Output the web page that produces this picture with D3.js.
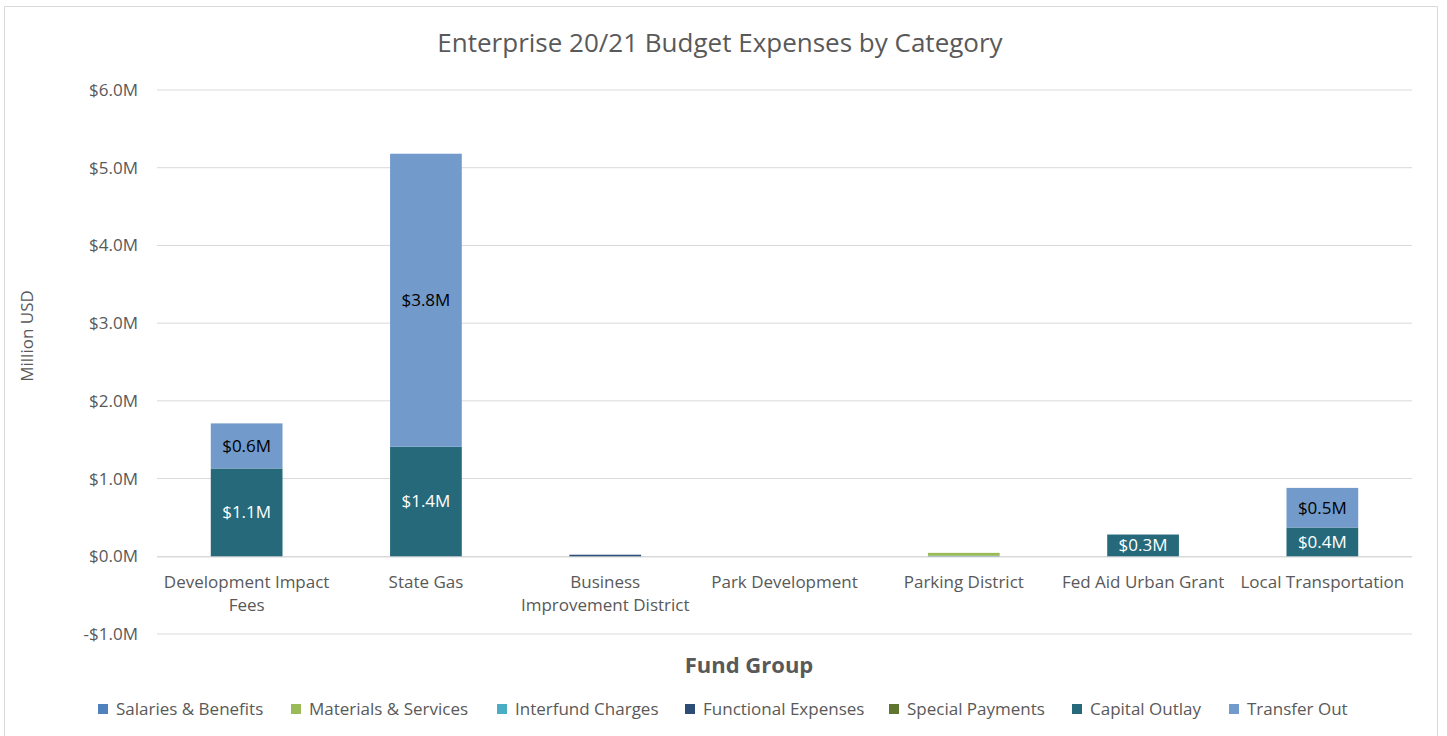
<!DOCTYPE html>
<html><head><meta charset="utf-8">
<script src="https://cdn.jsdelivr.net/npm/d3@7"></script>
<style>body{margin:0;background:#fff;}svg{display:block;}text{font-family:"Open Sans","Noto Sans",sans-serif;}</style>
</head><body><svg id="c" width="1447" height="736"></svg>
<script>
const categories = ["Development Impact Fees","State Gas","Business Improvement District","Park Development","Parking District","Fed Aid Urban Grant","Local Transportation"];
const seriesNames = ["Salaries & Benefits","Materials & Services","Interfund Charges","Functional Expenses","Special Payments","Capital Outlay","Transfer Out"];
const seriesColors = ["#4F81BD","#9BBB59","#4BACC6","#2C4D75","#5F7530","#25697A","#729ACB"];
const salaries    = [0,0,0,0,0.006,0,0];
const materials   = [0,0,0,0,0.038,0,0];
const interfund   = [0,0,0,0,0,0,0];
const functional  = [0,0,0.02,0,0,0,0];
const special     = [0,0,0,0,0,0,0];
const capital     = [1.13,1.41,0,0,0,0.28,0.37];
const transfer    = [0.58,3.77,0,0,0,0,0.51];
const capitalLabels  = ["$1.1M","$1.4M","","","","$0.3M","$0.4M"];
const transferLabels = ["$0.6M","$3.8M","","","","","$0.5M"];
const yTicks = [-1,0,1,2,3,4,5,6];
const tickLabel = v => (v<0?"-":"")+"$"+Math.abs(v).toFixed(1)+"M";

const seriesVals = [salaries,materials,interfund,functional,special,capital,transfer];
const rows = categories.map((c,i)=>{const r={cat:c};seriesNames.forEach((s,j)=>r[s]=seriesVals[j][i]);return r;});

const svg = d3.select("#c");
svg.append("path").attr("d","M4.5,736 V6.5 H1437.5 V736").attr("fill","none").attr("stroke","#d9d9d9");

const x = d3.scaleBand().domain(categories).range([157,1412]).paddingInner(0.6).paddingOuter(0.3);
const y = d3.scaleLinear().domain([-1,6]).range([634,90]);

// gridlines
svg.append("g").selectAll("line").data(yTicks.filter(d=>d!==0)).join("line")
  .attr("x1",157).attr("x2",1412).attr("y1",d=>y(d)).attr("y2",d=>y(d))
  .attr("stroke","#d9d9d9").attr("stroke-width",1);
// zero axis line
svg.append("line").attr("x1",157).attr("x2",1412).attr("y1",y(0)+0.5).attr("y2",y(0)+0.5).attr("stroke","#d9d9d9").attr("stroke-width",1.5);

const stack = d3.stack().keys(seriesNames)(rows);
const g = svg.append("g");
stack.forEach((layer,j)=>{
  g.selectAll(null).data(layer).join("rect")
    .attr("x",d=>x(d.data.cat)).attr("width",x.bandwidth())
    .attr("y",d=>y(d[1])).attr("height",d=>Math.max(0,y(d[0])-y(d[1])))
    .attr("fill",seriesColors[j]);
});

// labels
const capLayer = stack[5], trLayer = stack[6];
svg.append("g").selectAll("text").data(capLayer).join("text")
  .attr("x",d=>x(d.data.cat)+x.bandwidth()/2).attr("y",d=>(y(d[0])+y(d[1]))/2)
  .attr("dy","0.35em").attr("text-anchor","middle").attr("font-size",17).attr("fill","#fff")
  .text((d,i)=>capitalLabels[i]);
svg.append("g").selectAll("text").data(trLayer).join("text")
  .attr("x",d=>x(d.data.cat)+x.bandwidth()/2).attr("y",d=>(y(d[0])+y(d[1]))/2)
  .attr("dy","0.35em").attr("text-anchor","middle").attr("font-size",17).attr("fill","#000")
  .text((d,i)=>transferLabels[i]);

// y axis
const yAxis = d3.axisLeft(y).tickValues(yTicks).tickFormat(tickLabel).tickSize(0).tickPadding(0);
const ya = svg.append("g").attr("transform","translate(138,0)").call(yAxis);
ya.select(".domain").remove();
ya.selectAll("text").attr("font-size",17).attr("fill","#595959").attr("font-family","'Open Sans',sans-serif");

// x axis
const xAxis = d3.axisBottom(x).tickSize(0).tickPadding(0);
const xa = svg.append("g").attr("transform","translate(0,576)").call(xAxis);
xa.select(".domain").remove();
xa.selectAll("text").attr("font-size",17).attr("fill","#595959").attr("font-family","'Open Sans',sans-serif")
  .each(function(d){
    const t=d3.select(this);
    let lines=[d];
    if(d==="Development Impact Fees") lines=["Development Impact","Fees"];
    if(d==="Business Improvement District") lines=["Business","Improvement District"];
    t.text(null);
    lines.forEach((l,i)=>t.append("tspan").attr("x",0).attr("dy",i===0?"0.71em":"1.35em").text(l));
  });

// titles
svg.append("text").attr("x",720).attr("y",52).attr("text-anchor","middle").attr("font-size",26).attr("fill","#595959").text("Enterprise 20/21 Budget Expenses by Category");
svg.append("text").attr("x",749).attr("y",673).attr("text-anchor","middle").attr("font-size",22).attr("font-weight","bold").attr("fill","#595959").text("Fund Group");
svg.append("text").attr("transform","translate(33,336) rotate(-90)").attr("text-anchor","middle").attr("font-size",17).attr("fill","#595959").text("Million USD");

// legend
const legX = [98,291,497,685,889,1072,1229];
const leg = svg.append("g").selectAll("g").data(seriesNames).join("g").attr("transform",(d,i)=>`translate(${legX[i]},709)`);
leg.append("rect").attr("x",0).attr("y",-5).attr("width",10).attr("height",10).attr("fill",(d,i)=>seriesColors[i]);
leg.append("text").attr("x",18).attr("dy","0.35em").attr("font-size",17).attr("fill","#595959").text(d=>d);
</script></body></html>
